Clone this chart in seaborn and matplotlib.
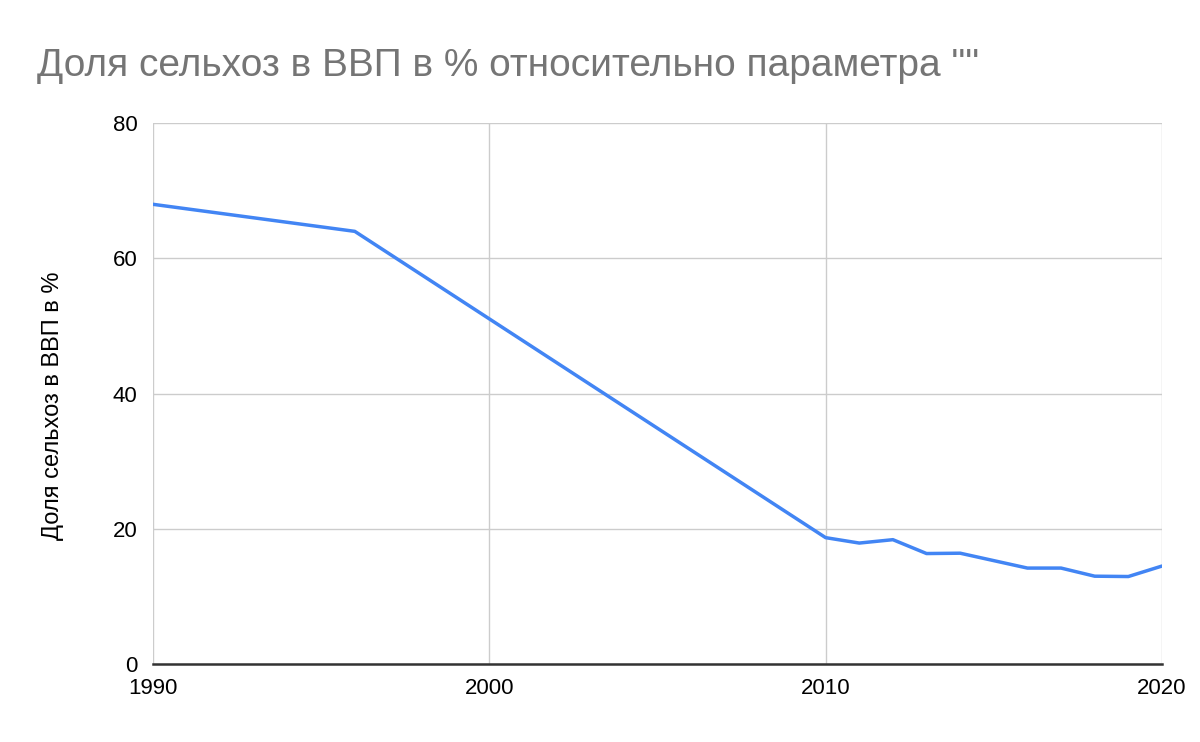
import numpy as np
import pandas as pd
import seaborn as sns
import matplotlib.pyplot as plt

years = [1990, 1996, 2010, 2011, 2012, 2013, 2014, 2016, 2017, 2018, 2019, 2020]
share = [68.0, 64.0, 18.7, 17.9, 18.4, 16.35, 16.4, 14.2, 14.2, 13.0, 12.95, 14.5]
x_ticks = [1990, 2000, 2010, 2020]
y_ticks = [0, 20, 40, 60, 80]

df = pd.DataFrame({"year": years, "share": share})

sns.set_theme(style="white")
plt.rcParams['font.family'] = ['Liberation Sans', 'DejaVu Sans']

fig = plt.figure(figsize=(12, 7.42), dpi=100)
ax = fig.add_axes([0.1275, 0.105, 0.8408, 0.729])

sns.lineplot(data=df, x="year", y="share", ax=ax, color="#4285f4", linewidth=2.5)

ax.set_xlim(1990, 2020)
ax.set_ylim(0, 80)
ax.set_xticks(x_ticks)
ax.set_yticks(y_ticks)
ax.grid(True, color="#cccccc", linewidth=1)
for s in ["top", "right", "left"]:
    ax.spines[s].set_visible(False)
ax.spines["bottom"].set_color("#333333")
ax.spines["bottom"].set_linewidth(1.8)
ax.tick_params(axis="both", length=0, labelsize=16, colors="#000000")
ax.tick_params(axis="x", pad=10)
ax.tick_params(axis="y", pad=11)
ax.set_xlabel("")
ax.set_ylabel("Доля сельхоз в ВВП в %", fontsize=17, color="#000000")
ax.yaxis.set_label_coords(-0.088, 0.477)

fig.text(0.031, 0.897, 'Доля сельхоз в ВВП в % относительно параметра ""',
         fontsize=28, color="#757575", ha="left", va="baseline")

fig.savefig("out.png", dpi=100)
